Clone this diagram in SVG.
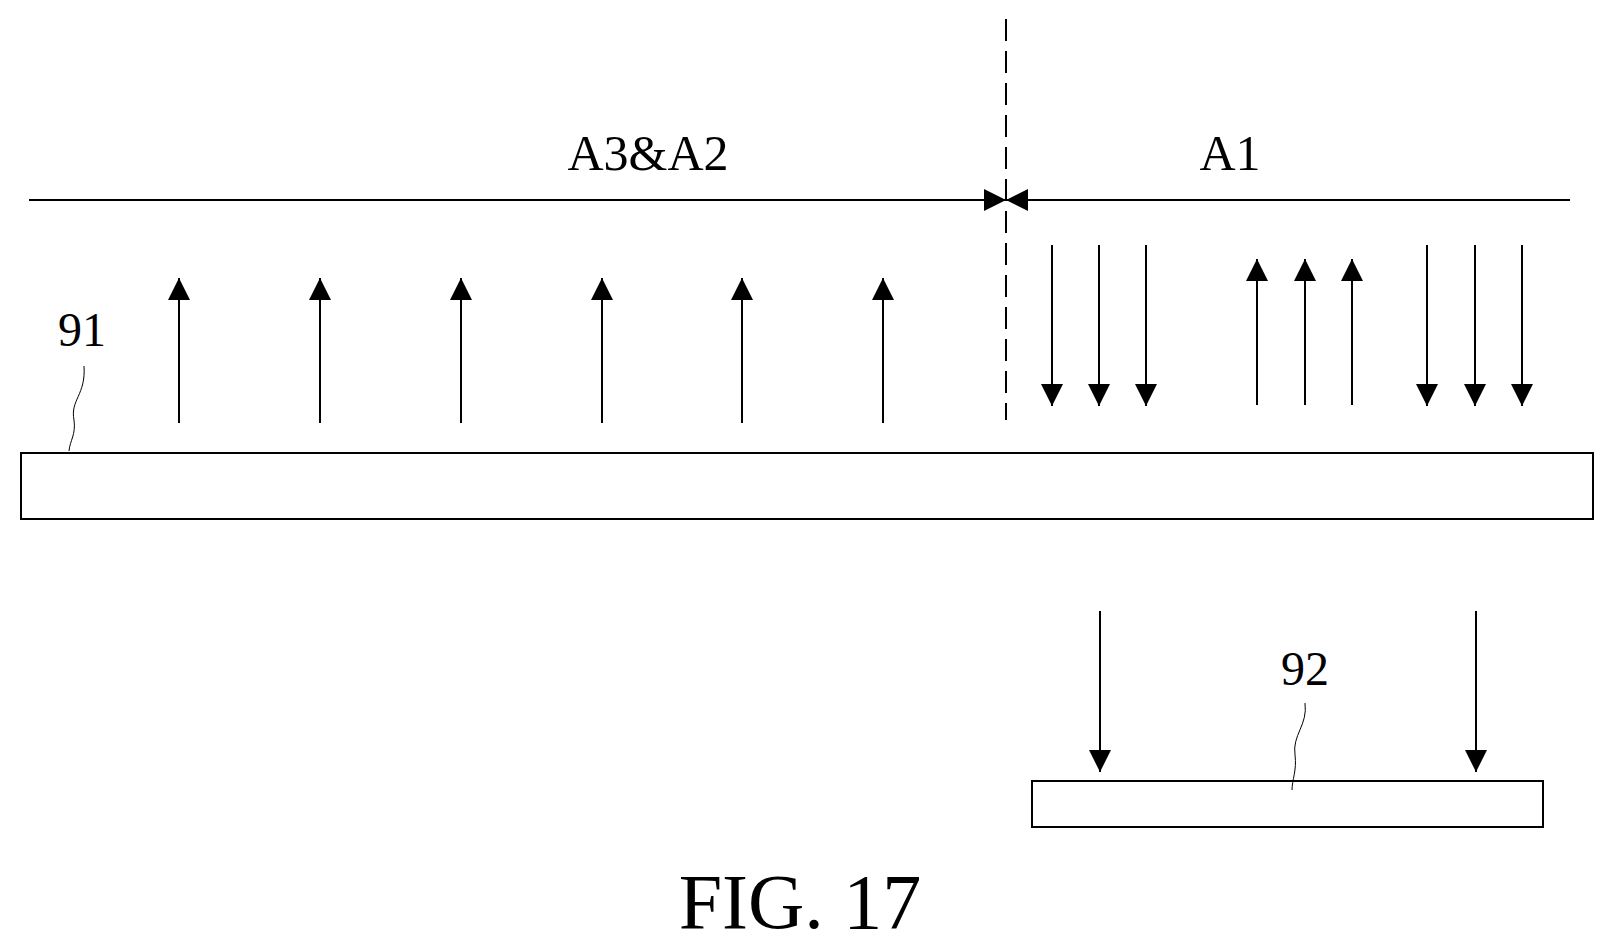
<svg xmlns="http://www.w3.org/2000/svg" width="1614" height="949" viewBox="0 0 1614 949">
<style>
.l{stroke:#000;stroke-width:2;fill:none}
.t{font-family:"Liberation Serif",serif;fill:#000}
</style>
<defs>
<marker id="a" viewBox="0 0 10 10" refX="10" refY="5" markerWidth="22" markerHeight="22" markerUnits="userSpaceOnUse" orient="auto"><path d="M0,0L10,5L0,10z" fill="#000"/></marker>
</defs>
<rect width="1614" height="949" fill="#fff"/>
<g id="connectors">
<line class="l" x1="29" y1="200" x2="1570" y2="200"/>
<line class="l" x1="1006" y1="19" x2="1006" y2="420" stroke-dasharray="22,10"/>
<path d="M984,189L1006,200L984,211z M1028,189L1006,200L1028,211z" fill="#000"/>
<g marker-end="url(#a)">
<line class="l" x1="179" y1="423" x2="179" y2="278"/>
<line class="l" x1="320" y1="423" x2="320" y2="278"/>
<line class="l" x1="461" y1="423" x2="461" y2="278"/>
<line class="l" x1="602" y1="423" x2="602" y2="278"/>
<line class="l" x1="742" y1="423" x2="742" y2="278"/>
<line class="l" x1="883" y1="423" x2="883" y2="278"/>
<line class="l" x1="1052" y1="245" x2="1052" y2="406"/>
<line class="l" x1="1099" y1="245" x2="1099" y2="406"/>
<line class="l" x1="1146" y1="245" x2="1146" y2="406"/>
<line class="l" x1="1257" y1="405" x2="1257" y2="259"/>
<line class="l" x1="1305" y1="405" x2="1305" y2="259"/>
<line class="l" x1="1352" y1="405" x2="1352" y2="259"/>
<line class="l" x1="1427" y1="245" x2="1427" y2="406"/>
<line class="l" x1="1475" y1="245" x2="1475" y2="406"/>
<line class="l" x1="1522" y1="245" x2="1522" y2="406"/>
<line class="l" x1="1100" y1="611" x2="1100" y2="772"/>
<line class="l" x1="1476" y1="611" x2="1476" y2="772"/>
</g>
<path d="M84,366 C86,395 70,400 74,420 C76,435 70,440 69,451" stroke="#000" stroke-width="1" fill="none"/>
<path d="M1305,703 C1308,725 1292,735 1295,755 C1297,770 1292,780 1292,790" stroke="#000" stroke-width="1" fill="none"/>
</g>
<text class="t" x="648" y="170" font-size="50" text-anchor="middle">A3&amp;A2</text>
<text class="t" x="1230" y="170" font-size="50" text-anchor="middle">A1</text>
<g id="n91">
<rect class="l" x="21" y="453" width="1572" height="66" stroke-width="1.5"/>
<text class="t" x="82" y="346" font-size="48" text-anchor="middle">91</text>
</g>
<g id="n92">
<rect class="l" x="1032" y="781" width="511" height="46" stroke-width="1.5"/>
<text class="t" x="1305" y="685" font-size="48" text-anchor="middle">92</text>
</g>
<text class="t" x="800" y="928" font-size="78" text-anchor="middle">FIG. 17</text>
</svg>
